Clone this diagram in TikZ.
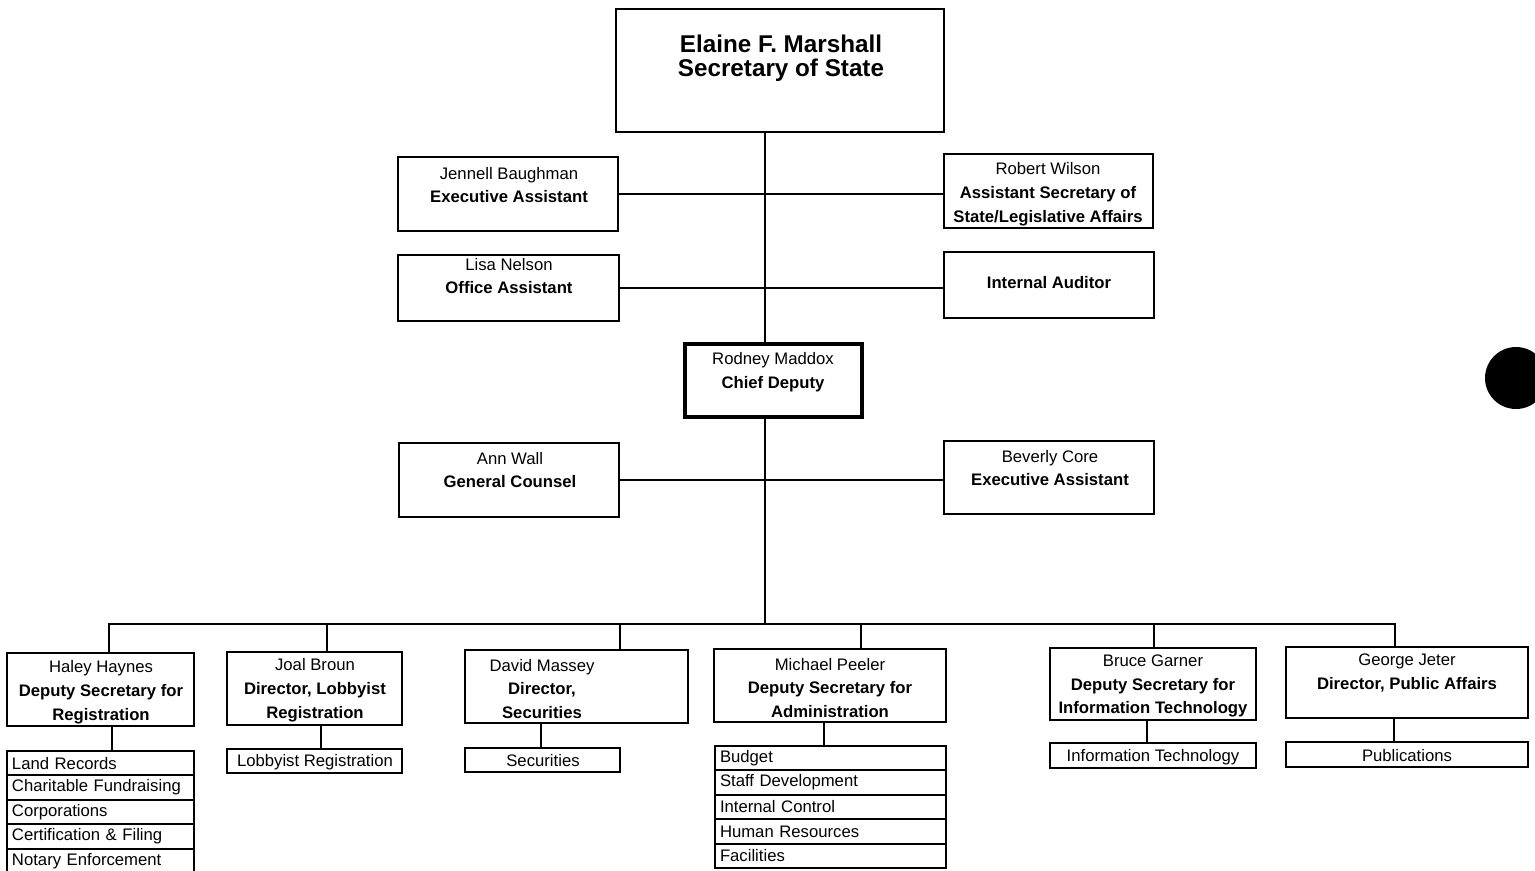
\documentclass[tikz,border=0pt]{standalone}
\usepackage{fontspec}
\setmainfont{Liberation Sans}
\usetikzlibrary{positioning, fit}

\begin{document}
\begin{tikzpicture}[%
    x = 0.02cm,
    y = -0.02cm,
    line width = 1.1pt,
    box/.style = {draw, inner sep = 0pt},
    who/.style = {align = center, font = \fontsize{9.5}{13.6}\selectfont},
    unitrow/.style = {%
      draw,
      anchor = north west,
      minimum height = 0.488cm,
      inner xsep = 0.1cm,
      inner ysep = 0pt,
      outer sep = 0pt,
      align = left,
      font = \fontsize{9.5}{11}\selectfont }
  ]

  \fill[white] (0,0) rectangle (1535,870);
  \useasboundingbox (0,0) rectangle (1535,870);

  % secretary and office
  \node[box, line width=1.6pt, fit={(616,9) (944,132)}] (sos) {};
  \node[who, font=\fontsize{13.8}{13.6}\selectfont\bfseries] (sos-txt) at (781,58)
    {Elaine F. Marshall\\Secretary of State};

  \node[box, fit={(398,157) (618,231)}] (jb) {};
  \node[who] (jb-txt) at (509,185) {Jennell Baughman\\\textbf{Executive Assistant}};
  \node[box, fit={(944,154) (1153,228)}] (rw) {};
  \node[who] (rw-txt) at (1048,194)
    {Robert Wilson\\\textbf{Assistant Secretary of}\\\textbf{State/Legislative Affairs}};
  \node[box, fit={(398,255) (619,321)}] (ln) {};
  \node[who] (ln-txt) at (509,276) {Lisa Nelson\\\textbf{Office Assistant}};
  \node[box, fit={(944,252) (1154,318)}] (ia) {};
  \node[who] (ia-txt) at (1049,283) {\textbf{Internal Auditor}};

  % chief deputy
  \node[box, line width=2pt, fit={(685,344) (862,417)}] (rm) {};
  \node[who] (rm-txt) at (773,372) {Rodney Maddox\\\textbf{Chief Deputy}};
  \node[box, fit={(399,443) (619,517)}] (aw) {};
  \node[who] (aw-txt) at (510,470) {Ann Wall\\\textbf{General Counsel}};
  \node[box, fit={(944,441) (1154,514)}] (bc) {};
  \node[who] (bc-txt) at (1050,468) {Beverly Core\\\textbf{Executive Assistant}};

  % divisions
  \node[box, fit={(7,653) (194,726)}] (hh) {};
  \node[who] (hh-txt) at (101,692)
    {Haley Haynes\\\textbf{Deputy Secretary for}\\\textbf{Registration}};
  \node[box, fit={(227,652) (402,725)}] (jbr) {};
  \node[who] (jbr-txt) at (315,690)
    {Joal Broun\\\textbf{Director, Lobbyist}\\\textbf{Registration}};
  \node[box, fit={(465,650) (688,723)}] (dm) {};
  \node[who] (dm-txt) at (542,689) {David Massey\\\textbf{Director,}\\\textbf{Securities}};
  \node[box, fit={(714,649) (946,722)}] (mp) {};
  \node[who] (mp-txt) at (830,688)
    {Michael Peeler\\\textbf{Deputy Secretary for}\\\textbf{Administration}};
  \node[box, fit={(1050,648) (1256,720)}] (bg) {};
  \node[who] (bg-txt) at (1153,686)
    {Bruce Garner\\\textbf{Deputy Secretary for}\\\textbf{Information Technology}};
  \node[box, fit={(1286,647) (1528,718)}] (gj) {};
  \node[who] (gj-txt) at (1407,673) {George Jeter\\\textbf{Director, Public Affairs}};

  % sections
  \node[unitrow, text width=3.54cm] (r1) at (7,751) {Land Records};
  \node[unitrow, text width=3.54cm, below=0pt of r1] (r2) {Charitable Fundraising};
  \node[unitrow, text width=3.54cm, below=0pt of r2] (r3) {Corporations};
  \node[unitrow, text width=3.54cm, below=0pt of r3] (r4) {Certification \& Filing};
  \node[unitrow, text width=3.54cm, below=0pt of r4] (r5) {Notary Enforcement};
  \node[box, fit={(227,749) (402,773)}] (lr) {};
  \node[who] (lr-txt) at (315,762) {Lobbyist Registration};
  \node[box, fit={(465,748) (620,772)}] (sec) {};
  \node[who] (sec-txt) at (543,761) {Securities};
  \node[unitrow, text width=4.42cm] (m1) at (715,746) {Budget};
  \node[unitrow, text width=4.42cm, below=0pt of m1] (m2) {Staff Development};
  \node[unitrow, text width=4.42cm, below=0pt of m2] (m3) {Internal Control};
  \node[unitrow, text width=4.42cm, below=0pt of m3] (m4) {Human Resources};
  \node[unitrow, text width=4.42cm, below=0pt of m4] (m5) {Facilities};
  \node[box, fit={(1050,743) (1256,768)}] (it) {};
  \node[who] (it-txt) at (1153,757) {Information Technology};
  \node[box, fit={(1286,742) (1528,767)}] (pub) {};
  \node[who] (pub-txt) at (1407,756) {Publications};

  % lines
  \coordinate (spine) at (765,0);
  \coordinate (t1) at (109,624);
  \coordinate (t2) at (327,624);
  \coordinate (t3) at (620,624);
  \coordinate (t4) at (861,624);
  \coordinate (t5) at (1154,624);
  \coordinate (t6) at (1395,624);
  \coordinate (u1) at (112,0);
  \coordinate (u2) at (321,0);
  \coordinate (u3) at (541,0);
  \coordinate (u4) at (824,0);
  \coordinate (u5) at (1147,0);
  \coordinate (u6) at (1394,0);

  \draw (sos.south -| spine) -- (rm.north -| spine);
  \draw (jb.east) -- (jb.east -| rw.west);
  \draw (ln.east) -- (ln.east -| ia.west);
  \draw (aw.east) -- (aw.east -| bc.west);
  \draw (rm.south -| spine) -- (t1 -| spine);
  \draw (t1 |- hh.north) -- (t1) -- (t6) -- (t6 |- gj.north);
  \draw (t2) -- (t2 |- jbr.north);
  \draw (t3) -- (t3 |- dm.north);
  \draw (t4) -- (t4 |- mp.north);
  \draw (t5) -- (t5 |- bg.north);

  \draw (u1 |- hh.south) -- (u1 |- r1.north);
  \draw (u2 |- jbr.south) -- (u2 |- lr.north);
  \draw (u3 |- dm.south) -- (u3 |- sec.north);
  \draw (u4 |- mp.south) -- (u4 |- m1.north);
  \draw (u5 |- bg.south) -- (u5 |- it.north);
  \draw (u6 |- gj.south) -- (u6 |- pub.north);

  % punch hole
  \fill (1516,378) circle[radius=0.62cm];

\end{tikzpicture}
\end{document}
